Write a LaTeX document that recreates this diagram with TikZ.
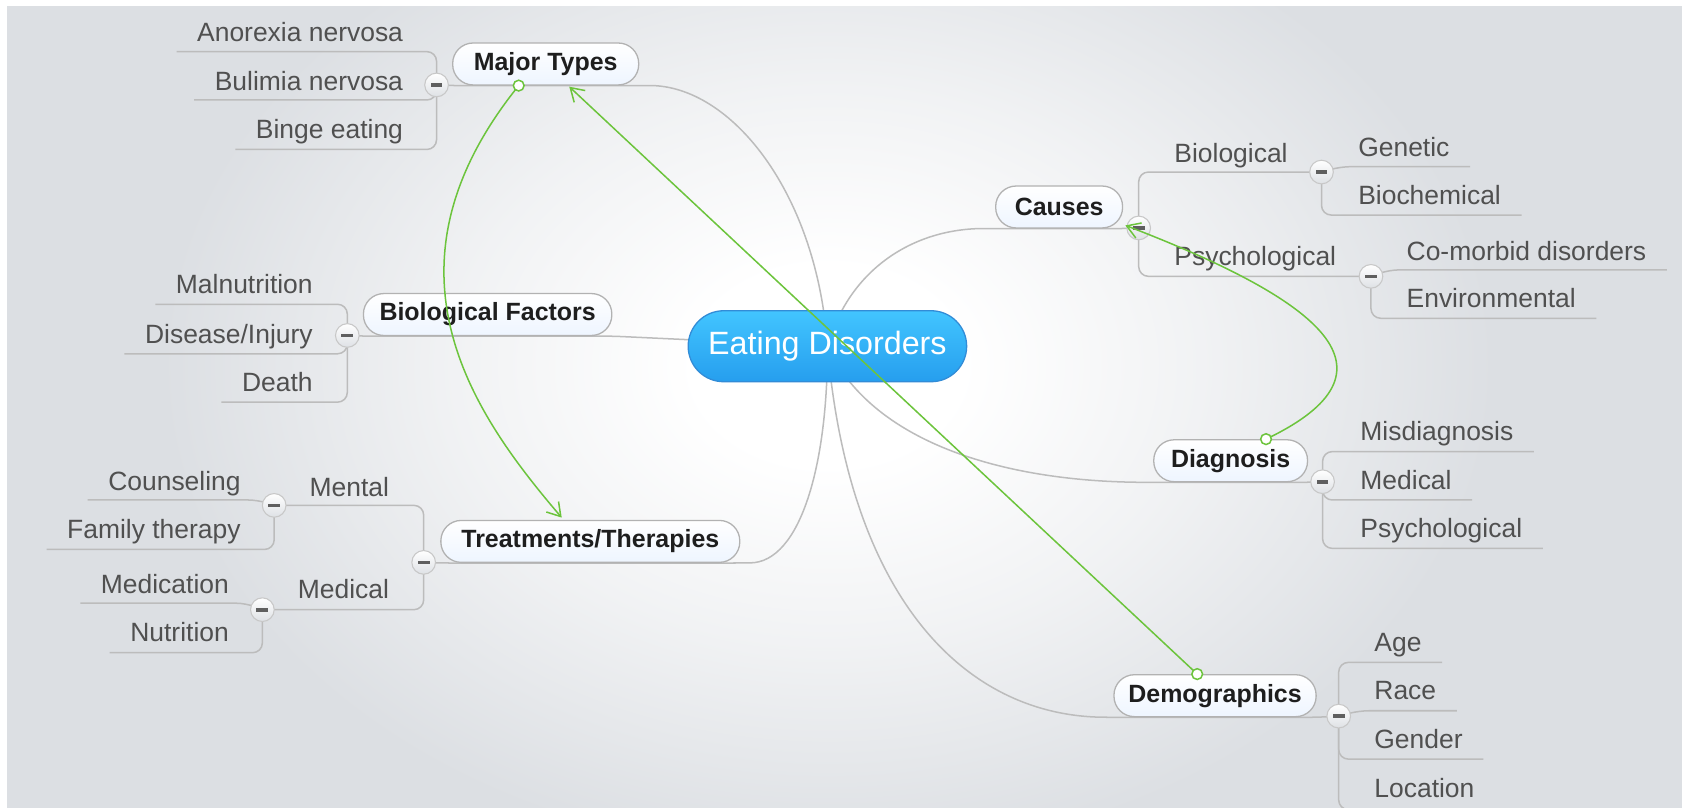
\documentclass[tikz,border=0pt]{standalone}
\usepackage{fontspec}
\setmainfont{Liberation Sans}
\usetikzlibrary{arrows.meta,calc}
\definecolor{bgc}{RGB}{220,223,227}
\definecolor{lineg}{RGB}{188,188,188}
\definecolor{txtc}{RGB}{80,80,80}
\definecolor{topictxt}{RGB}{30,30,30}
\definecolor{borderc}{RGB}{178,178,178}
\definecolor{topicbot}{RGB}{238,245,255}
\definecolor{gl}{RGB}{108,196,60}
\definecolor{ctop}{RGB}{66,197,255}
\definecolor{cbot}{RGB}{38,158,238}
\definecolor{cborder}{RGB}{50,140,215}
\definecolor{minusc}{RGB}{95,95,95}
\definecolor{togb}{RGB}{200,200,200}
\definecolor{togbot}{RGB}{222,225,229}
\pgfdeclareradialshading{glow}{\pgfpoint{0bp}{0bp}}{color(0bp)=(white); color(5bp)=(white); color(14bp)=(bgc!40!white); color(25bp)=(bgc); color(50bp)=(bgc)}
\newcommand{\mmleaf}{\fontsize{24.6pt}{29pt}\selectfont}
\newcommand{\mmtopic}{\fontsize{23.2pt}{28pt}\selectfont\bfseries}
\newcommand{\mmcenter}{\fontsize{30pt}{36pt}\selectfont}
\pgfdeclarelayer{bgl}
\pgfdeclarelayer{lnl}
\pgfsetlayers{bgl,lnl,main}
\tikzset{
  branch/.style={draw=lineg, line width=1.4pt, rounded corners=9pt},
  leafL/.style={anchor=base east, inner sep=0pt, font=\mmleaf, text=txtc},
  leafR/.style={anchor=base west, inner sep=0pt, font=\mmleaf, text=txtc},
  topic/.style={rectangle, draw=borderc, line width=1.2pt, rounded corners=19pt, top color=white, bottom color=topicbot, minimum height=39pt, inner sep=0pt, font=\mmtopic, text=topictxt},
  central/.style={rectangle, draw=cborder, line width=1.2pt, rounded corners=33pt, top color=ctop, bottom color=cbot, minimum height=66pt, minimum width=259pt, inner sep=0pt, font=\mmcenter, text=white},
  toggle/.style={circle, minimum size=22pt, inner sep=0pt, draw=togb, line width=1pt, top color=white, bottom color=togbot,
    path picture={\fill[minusc] ($(path picture bounding box.center)+(-5.5,-1.7)$) rectangle ($(path picture bounding box.center)+(5.5,1.7)$);}},
  glink/.style={draw=gl, line width=1.4pt, -{Straight Barb[length=12pt,width=15pt]}},
  gdot/.style={circle, minimum size=10pt, inner sep=0pt, draw=gl, line width=1.4pt, fill=white}
}
\begin{document}
\begin{tikzpicture}[x=1pt, y=-1pt]
\useasboundingbox (0,0) rectangle (1568,751);
\begin{pgfonlayer}{bgl}
  \fill[white] (0,0) rectangle (1568,751);
  \fill[bgc] (6.5,5.6) rectangle (1564,751);
  \begin{scope}
    \clip (6.5,5.6) rectangle (1564,751);
    \shade[shading=glow] (770,340) ellipse [x radius=620, y radius=460];
  \end{scope}
\end{pgfonlayer}

% central and main topics
\node[central] (ed) at (769.5,322) {Eating Disorders};
\node[topic, minimum width=173pt] (mt) at (507.5,59.5) {Major Types};
\node[topic, minimum width=231pt] (bf) at (453.5,292.5) {Biological Factors};
\node[topic, minimum width=278pt] (tt) at (549,503.5) {Treatments/Therapies};
\node[topic, minimum width=118pt] (ca) at (985,192.5) {Causes};
\node[topic, minimum width=143pt] (dg) at (1144.5,428.5) {Diagnosis};
\node[topic, minimum width=188pt] (dm) at (1130,647) {Demographics};

% toggles
\node[toggle] (mtc) at (406,79) {};
\node[toggle] (bfc) at (323,312) {};
\node[toggle] (ttc) at (394,523) {};
\node[toggle] (mec) at (255,470) {};
\node[toggle] (mdc) at (244,567) {};
\node[toggle] (cac) at (1059,212) {};
\node[toggle] (bic) at (1229,160) {};
\node[toggle] (psc) at (1275,257) {};
\node[toggle] (dgc) at (1230,448) {};
\node[toggle] (dmc) at (1245,666) {};

% leaves left
\node[leafL] (a1) at (375,39) {Anorexia nervosa};
\node[leafL] (a2) at (375,84) {Bulimia nervosa};
\node[leafL] (a3) at (375,129) {Binge eating};
\node[leafL] (b1) at (291,273) {Malnutrition};
\node[leafL] (b2) at (291,319) {Disease/Injury};
\node[leafL] (b3) at (291,364) {Death};
\node[leafL] (t1) at (362,462) {Mental};
\node[leafL] (t2) at (362,557) {Medical};
\node[leafL] (c1) at (224,456) {Counseling};
\node[leafL] (c2) at (224,501) {Family therapy};
\node[leafL] (m1) at (213,552) {Medication};
\node[leafL] (m2) at (213,597) {Nutrition};

% leaves right
\node[leafR] (s1) at (1092,151) {Biological};
\node[leafR] (s2) at (1092,247) {Psychological};
\node[leafR] (g1) at (1263,146) {Genetic};
\node[leafR] (g2) at (1263,190) {Biochemical};
\node[leafR] (p1) at (1308,242) {Co-morbid disorders};
\node[leafR] (p2) at (1308,286) {Environmental};
\node[leafR] (d1) at (1265,410) {Misdiagnosis};
\node[leafR] (d2) at (1265,455) {Medical};
\node[leafR] (d3) at (1265,500) {Psychological};
\node[leafR] (e1) at (1278,606) {Age};
\node[leafR] (e2) at (1278,651) {Race};
\node[leafR] (e3) at (1278,696) {Gender};
\node[leafR] (e4) at (1278,742) {Location};

\begin{pgfonlayer}{lnl}
  % center connections
  \draw[branch] (mtc.center) -- (mt.south west) -- (mt.south east) .. controls (680,79) and (760,180) .. (ed.center);
  \draw[branch] (bfc.center) -- (bf.south west) -- (bf.south east) -- (ed.center);
  \draw[branch] (ttc.center) -- (tt.south west) -- (tt.south east) .. controls (745,523) and (770,430) .. (ed.center);
  \draw[branch] (cac.center) -- (ca.south east) -- (ca.south west) .. controls (850,212) and (790,250) .. (ed.center);
  \draw[branch] (dgc.center) -- (dg.south east) -- (dg.south west) .. controls (930,448) and (810,410) .. (ed.center);
  \draw[branch] (dmc.center) -- (dm.south east) -- (dm.south west) .. controls (900,666) and (790,560) .. (ed.center);
  % Major Types
  \draw[branch] ($(a1.base west)+(-19,9)$) -| (mtc.center) |- ($(a3.base west)+(-19,10)$);
  \draw[branch] ($(a2.base west)+(-19,9)$) -| (mtc.center);
  % Biological Factors
  \draw[branch] ($(b1.base west)+(-19,10)$) -| (bfc.center) |- ($(b3.base west)+(-19,10)$);
  \draw[branch] ($(b2.base west)+(-19,10)$) -| (bfc.center);
  % Treatments
  \draw[branch] (mec.center) -| (ttc.center) |- (mdc.center);
  \draw[branch] ($(c1.base west)+(-19,9)$) -- ($(c1.base east)+(16,9)$) -- (mec.center) |- ($(c2.base west)+(-19,10)$);
  \draw[branch] ($(m1.base west)+(-19,9)$) -- ($(m1.base east)+(16,9)$) -- (mdc.center) |- ($(m2.base west)+(-19,10)$);
  % Causes
  \draw[branch] (bic.center) -| (cac.center) |- (psc.center);
  \draw[branch] ($(g1.base east)+(19,9)$) -- ($(g1.base west)+(-16,9)$) -- (bic.center) |- ($(g2.base east)+(19,10)$);
  \draw[branch] ($(p1.base east)+(19,9)$) -- ($(p1.base west)+(-16,9)$) -- (psc.center) |- ($(p2.base east)+(19,10)$);
  % Diagnosis
  \draw[branch] ($(d1.base east)+(19,10)$) -| (dgc.center) |- ($(d3.base east)+(19,10)$);
  \draw[branch] (dgc.center) |- ($(d2.base east)+(19,10)$);
  % Demographics
  \draw[branch] ($(e1.base east)+(19,10)$) -| (dmc.center) |- ($(e4.base east)+(19,11)$);
  \draw[branch] (dmc.center) -- ($(e2.base west)+(-14,10)$) -- ($(e2.base east)+(19,10)$);
  \draw[branch] (dmc.center) |- ($(e3.base east)+(19,10)$);
\end{pgfonlayer}

% green relationship links
\coordinate (g1s) at ($(mt.south west)+(62,0)$);
\coordinate (g1e) at ($(tt.north west)+(113,-2)$);
\coordinate (g2s) at ($(dg.north west)+(105,0)$);
\coordinate (g2e) at ($(ca.south east)+(2,-3)$);
\coordinate (g3s) at ($(dm.north west)+(78,0)$);
\coordinate (g3e) at ($(mt.south west)+(109,1)$);
\draw[glink] (g1s) .. controls (345,250) and (440,385) .. (g1e);
\draw[glink] (g2s) .. controls (1310,345) and (1230,280) .. (g2e);
\draw[glink] (g3s) -- (g3e);
\node[gdot] (g1d) at (g1s) {};
\node[gdot] (g2d) at (g2s) {};
\node[gdot] (g3d) at (g3s) {};
\end{tikzpicture}
\end{document}
